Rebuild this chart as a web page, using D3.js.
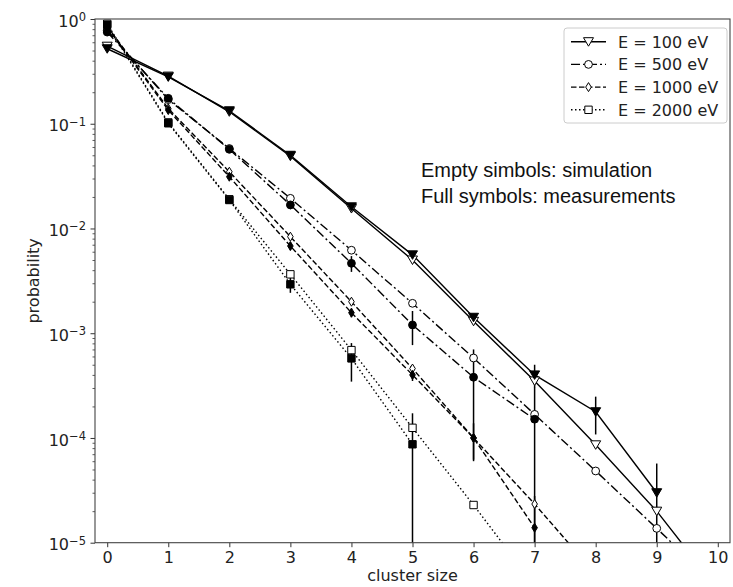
<!DOCTYPE html>
<html>
<head>
<meta charset="utf-8">
<script src="https://cdn.jsdelivr.net/npm/d3@7"></script>
<style>
  html, body { margin: 0; padding: 0; background: #fff; }
  svg { display: block; }
</style>
</head>
<body>
<svg id="chart" width="733" height="587"></svg>
<script>
// ---------------- DATA ----------------
const clusterSizeTicks = [0, 1, 2, 3, 4, 5, 6, 7, 8, 9, 10];
const yMajorTicks = [1e-5, 1e-4, 1e-3, 1e-2, 1e-1, 1];
const seriesLabels = ["E = 100 eV", "E = 500 eV", "E = 1000 eV", "E = 2000 eV"];
const annotationLines = ["Empty simbols: simulation", "Full symbols: measurements"];
const xLabel = "cluster size";
const yLabel = "probability";

// simulation (empty symbols), index = cluster size
const sim100  = [0.55, 0.285, 0.13, 0.049, 0.0155, 0.0050, 0.0013, 0.00035, 8.6e-5, 2.0e-5, 3.6e-6];
const sim500  = [0.78, 0.17, 0.058, 0.0194, 0.0062, 0.00193, 0.00058, 1.68e-4, 4.84e-5, 1.37e-5, 3.8e-6];
const sim1000 = [0.85, 0.14, 0.0348, 0.00835, 0.0020, 4.6e-4, 1.0e-4, 2.34e-5, 5.0e-6];
const sim2000 = [0.90, 0.103, 0.019, 0.00365, 6.9e-4, 1.25e-4, 2.29e-5, 3.9e-6];

// measurements (full symbols) and their errors
const meas100  = [0.52, 0.28, 0.133, 0.050, 0.0161, 0.0056, 0.00142, 0.00040, 1.78e-4, 3.0e-5];
const err100   = [0.01, 0.005, 0.003, 0.001, 0.0004, 0.0002, 0.00008, 0.0001, 0.00007, 0.000027];
const meas500  = [0.75, 0.175, 0.057, 0.0168, 0.00465, 0.0012, 0.00038, 1.51e-4];
const err500   = [0.01, 0.004, 0.002, 0.0015, 0.0008, 0.00043, 0.00032, 0.00015];
const meas1000 = [0.83, 0.135, 0.0312, 0.0068, 0.00157, 4.0e-4, 1.0e-4, 1.39e-5];
const err1000  = [0.01, 0.004, 0.001, 0.0006, 0.00015, 0.00005, 0.000038, 0.000014];
const meas2000 = [0.88, 0.101, 0.0187, 0.00293, 5.75e-4, 8.7e-5];
const err2000  = [0.01, 0.003, 0.001, 0.0005, 0.00023, 0.000085];

// ---------------- STYLE ----------------
const styles = [
  { marker: "tri",     dash: null },
  { marker: "circle",  dash: "9,3,2,3" },
  { marker: "diamond", dash: "5.5,2.5" },
  { marker: "square",  dash: "1.5,2.5" }
];
const groups = [
  { sim: sim100,  meas: meas100,  err: err100 },
  { sim: sim500,  meas: meas500,  err: err500 },
  { sim: sim1000, meas: meas1000, err: err1000 },
  { sim: sim2000, meas: meas2000, err: err2000 }
];

const L = 95, R = 730, T = 19, B = 542.7;
const svg = d3.select("#chart");
const x = d3.scaleLinear().domain([-0.2, 10.2]).range([L, R]);
const y = d3.scaleLog().domain([1e-5, 1]).range([B, T]);

svg.append("defs").append("clipPath").attr("id", "clip")
  .append("rect").attr("x", L).attr("y", T).attr("width", R - L).attr("height", B - T);

function markerPath(type) {
  if (type === "tri") return "M-5,-4 L5,-4 L0,4.5 Z";
  if (type === "diamond") return "M0,-4.5 L2.8,0 L0,4.5 L-2.8,0 Z";
  if (type === "square") return "M-3.7,-3.7 L3.7,-3.7 L3.7,3.7 L-3.7,3.7 Z";
  return d3.symbol().type(d3.symbolCircle).size(Math.PI * 3.9 * 3.9)();
}

const plot = svg.append("g").attr("clip-path", "url(#clip)");
const line = d3.line().x(d => x(d[0])).y(d => y(d[1]));

groups.forEach((g, i) => {
  const st = styles[i];
  const simPts = g.sim.map((v, k) => [k, v]);
  const measPts = g.meas.map((v, k) => [k, v]);
  [simPts, measPts].forEach(pts => {
    plot.append("path").datum(pts).attr("d", line)
      .attr("fill", "none").attr("stroke", "#000").attr("stroke-width", 1.4)
      .attr("stroke-dasharray", st.dash);
  });
  // error bars
  plot.selectAll(null).data(measPts).enter().append("line")
    .attr("x1", d => x(d[0])).attr("x2", d => x(d[0]))
    .attr("y1", (d, k) => y(d[1] + g.err[k]))
    .attr("y2", (d, k) => { const lo = d[1] - g.err[k]; return lo > 1e-7 ? y(lo) : B + 10; })
    .attr("stroke", "#000").attr("stroke-width", 1.5);
});
// markers: simulation (empty) then measurements (full)
groups.forEach((g, i) => {
  const st = styles[i];
  plot.selectAll(null).data(g.sim.map((v, k) => [k, v])).enter().append("path")
    .attr("d", markerPath(st.marker))
    .attr("transform", d => `translate(${x(d[0])},${y(d[1])})`)
    .attr("fill", "#fff").attr("stroke", "#000").attr("stroke-width", 1);
});
groups.forEach((g, i) => {
  const st = styles[i];
  plot.selectAll(null).data(g.meas.map((v, k) => [k, v])).enter().append("path")
    .attr("d", markerPath(st.marker))
    .attr("transform", d => `translate(${x(d[0])},${y(d[1])})`)
    .attr("fill", "#000").attr("stroke", "#000").attr("stroke-width", 1);
});

// ---------------- AXES ----------------
const font = "'DejaVu Sans', sans-serif";
const xAxis = svg.append("g").attr("transform", `translate(0,${B})`)
  .call(d3.axisBottom(x).tickValues(clusterSizeTicks).tickSize(4.5).tickPadding(4).tickFormat(d3.format("d")));
xAxis.select(".domain").remove();
xAxis.selectAll("text").attr("font-family", font).attr("font-size", 16).attr("fill", "#222");
xAxis.selectAll("line").attr("stroke", "#333").attr("stroke-width", 1);

const minor = [];
for (let e = -5; e < 0; e++) for (let m = 2; m <= 9; m++) minor.push(m * Math.pow(10, e));
const yMinor = svg.append("g").attr("transform", `translate(${L},0)`)
  .call(d3.axisLeft(y).tickValues(minor).tickSize(2.5).tickFormat(""));
yMinor.select(".domain").remove();
yMinor.selectAll("line").attr("stroke", "#333").attr("stroke-width", 0.8);

const yAxis = svg.append("g").attr("transform", `translate(${L},0)`)
  .call(d3.axisLeft(y).tickValues(yMajorTicks).tickSize(4.5).tickPadding(5).tickFormat(""));
yAxis.select(".domain").remove();
yAxis.selectAll("line").attr("stroke", "#333").attr("stroke-width", 1);
yAxis.selectAll(".tick").each(function(d) {
  const exp = Math.round(Math.log10(d));
  const t = d3.select(this).select("text")
    .attr("font-family", font).attr("font-size", 16).attr("fill", "#222")
    .attr("x", -9).attr("dy", "0.45em").attr("text-anchor", "end");
  t.text(null);
  t.append("tspan").text("10");
  t.append("tspan").attr("dy", "-0.5em").attr("font-size", 11.5)
    .text(exp === 0 ? "0" : "\u2212" + Math.abs(exp));
});

// frame
svg.append("rect").attr("x", L).attr("y", T).attr("width", R - L).attr("height", B - T)
  .attr("fill", "none").attr("stroke", "#444").attr("stroke-width", 1.1);

// axis labels
svg.append("text").attr("x", (L + R) / 2).attr("y", 581).attr("text-anchor", "middle")
  .attr("font-family", font).attr("font-size", 16).attr("fill", "#222").text(xLabel);
svg.append("text").attr("transform", `translate(39,${(T + B) / 2}) rotate(-90)`)
  .attr("text-anchor", "middle").attr("font-family", font).attr("font-size", 16)
  .attr("fill", "#222").text(yLabel);

// annotation
annotationLines.forEach((s, i) => {
  svg.append("text").attr("x", 421).attr("y", 177 + i * 26)
    .attr("font-family", "'Liberation Sans', Arial, sans-serif").attr("font-size", 20)
    .attr("fill", "#111").text(s);
});

// ---------------- LEGEND ----------------
const lg = svg.append("g");
lg.append("rect").attr("x", 564).attr("y", 28).attr("width", 163).attr("height", 95)
  .attr("rx", 3).attr("fill", "#fff").attr("fill-opacity", 0.85)
  .attr("stroke", "#ccc").attr("stroke-width", 1);
seriesLabels.forEach((lab, i) => {
  const cy = 41.7 + i * 22.7;
  lg.append("line").attr("x1", 571).attr("x2", 606).attr("y1", cy).attr("y2", cy)
    .attr("stroke", "#000").attr("stroke-width", 1.4).attr("stroke-dasharray", styles[i].dash);
  lg.append("path").attr("d", markerPath(styles[i].marker))
    .attr("transform", `translate(588.5,${cy})`)
    .attr("fill", "#fff").attr("stroke", "#000").attr("stroke-width", 1);
  lg.append("text").attr("x", 618).attr("y", cy + 5.8)
    .attr("font-family", font).attr("font-size", 16).attr("fill", "#222").text(lab);
});
</script>
</body>
</html>
